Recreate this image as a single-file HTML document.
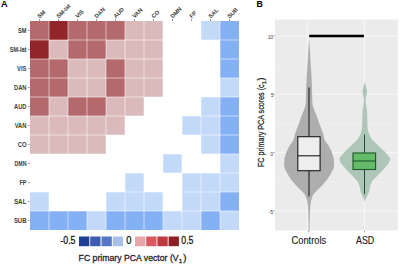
<!DOCTYPE html>
<html><head><meta charset="utf-8"><style>
html,body{margin:0;padding:0;background:#fff;width:400px;height:264px;overflow:hidden}
svg{display:block;font-family:"Liberation Sans",sans-serif}
</style></head><body>
<svg width="400" height="264" viewBox="0 0 400 264">
<rect width="400" height="264" fill="#fff"/>
<text x="0.9" y="7.0" font-size="9.2" font-weight="bold" fill="#000">A</text>
<g><rect x="30" y="21" width="19" height="19" fill="#b4696d"/><rect x="49" y="21" width="19" height="19" fill="#912529"/><rect x="68" y="21" width="19" height="19" fill="#b4696d"/><rect x="87" y="21" width="19" height="19" fill="#b4696d"/><rect x="106" y="21" width="19" height="19" fill="#b4696d"/><rect x="125" y="21" width="19" height="19" fill="#dbbabc"/><rect x="144" y="21" width="19" height="19" fill="#dbbabc"/><rect x="201" y="21" width="19" height="19" fill="#c3d9fa"/><rect x="220" y="21" width="19" height="19" fill="#84b0f5"/><rect x="30" y="40" width="19" height="19" fill="#912529"/><rect x="49" y="40" width="19" height="19" fill="#dbbabc"/><rect x="68" y="40" width="19" height="19" fill="#b4696d"/><rect x="87" y="40" width="19" height="19" fill="#b4696d"/><rect x="106" y="40" width="19" height="19" fill="#dbbabc"/><rect x="125" y="40" width="19" height="19" fill="#dbbabc"/><rect x="144" y="40" width="19" height="19" fill="#dbbabc"/><rect x="220" y="40" width="19" height="19" fill="#84b0f5"/><rect x="30" y="59" width="19" height="19" fill="#b4696d"/><rect x="49" y="59" width="19" height="19" fill="#b4696d"/><rect x="68" y="59" width="19" height="19" fill="#dbbabc"/><rect x="87" y="59" width="19" height="19" fill="#dbbabc"/><rect x="106" y="59" width="19" height="19" fill="#b4696d"/><rect x="125" y="59" width="19" height="19" fill="#dbbabc"/><rect x="144" y="59" width="19" height="19" fill="#dbbabc"/><rect x="220" y="59" width="19" height="19" fill="#84b0f5"/><rect x="30" y="78" width="19" height="19" fill="#b4696d"/><rect x="49" y="78" width="19" height="19" fill="#b4696d"/><rect x="68" y="78" width="19" height="19" fill="#dbbabc"/><rect x="87" y="78" width="19" height="19" fill="#dbbabc"/><rect x="106" y="78" width="19" height="19" fill="#b4696d"/><rect x="125" y="78" width="19" height="19" fill="#dbbabc"/><rect x="144" y="78" width="19" height="19" fill="#dbbabc"/><rect x="220" y="78" width="19" height="19" fill="#c3d9fa"/><rect x="30" y="97" width="19" height="19" fill="#b4696d"/><rect x="49" y="97" width="19" height="19" fill="#dbbabc"/><rect x="68" y="97" width="19" height="19" fill="#b4696d"/><rect x="87" y="97" width="19" height="19" fill="#b4696d"/><rect x="106" y="97" width="19" height="19" fill="#dbbabc"/><rect x="125" y="97" width="19" height="19" fill="#dbbabc"/><rect x="201" y="97" width="19" height="19" fill="#c3d9fa"/><rect x="220" y="97" width="19" height="19" fill="#84b0f5"/><rect x="30" y="116" width="19" height="19" fill="#dbbabc"/><rect x="49" y="116" width="19" height="19" fill="#dbbabc"/><rect x="68" y="116" width="19" height="19" fill="#dbbabc"/><rect x="87" y="116" width="19" height="19" fill="#dbbabc"/><rect x="106" y="116" width="19" height="19" fill="#dbbabc"/><rect x="182" y="116" width="19" height="19" fill="#c3d9fa"/><rect x="201" y="116" width="19" height="19" fill="#c3d9fa"/><rect x="220" y="116" width="19" height="19" fill="#84b0f5"/><rect x="30" y="135" width="19" height="19" fill="#dbbabc"/><rect x="49" y="135" width="19" height="19" fill="#dbbabc"/><rect x="68" y="135" width="19" height="19" fill="#dbbabc"/><rect x="87" y="135" width="19" height="19" fill="#dbbabc"/><rect x="201" y="135" width="19" height="19" fill="#c3d9fa"/><rect x="220" y="135" width="19" height="19" fill="#84b0f5"/><rect x="163" y="154" width="19" height="19" fill="#c3d9fa"/><rect x="220" y="154" width="19" height="19" fill="#c3d9fa"/><rect x="125" y="173" width="19" height="19" fill="#c3d9fa"/><rect x="182" y="173" width="19" height="19" fill="#c3d9fa"/><rect x="201" y="173" width="19" height="19" fill="#c3d9fa"/><rect x="220" y="173" width="19" height="19" fill="#c3d9fa"/><rect x="30" y="192" width="19" height="19" fill="#c3d9fa"/><rect x="106" y="192" width="19" height="19" fill="#c3d9fa"/><rect x="125" y="192" width="19" height="19" fill="#c3d9fa"/><rect x="144" y="192" width="19" height="19" fill="#c3d9fa"/><rect x="182" y="192" width="19" height="19" fill="#c3d9fa"/><rect x="201" y="192" width="19" height="19" fill="#c3d9fa"/><rect x="220" y="192" width="19" height="19" fill="#84b0f5"/><rect x="30" y="211" width="19" height="19" fill="#84b0f5"/><rect x="49" y="211" width="19" height="19" fill="#84b0f5"/><rect x="68" y="211" width="19" height="19" fill="#84b0f5"/><rect x="87" y="211" width="19" height="19" fill="#c3d9fa"/><rect x="106" y="211" width="19" height="19" fill="#84b0f5"/><rect x="125" y="211" width="19" height="19" fill="#84b0f5"/><rect x="144" y="211" width="19" height="19" fill="#84b0f5"/><rect x="163" y="211" width="19" height="19" fill="#c3d9fa"/><rect x="182" y="211" width="19" height="19" fill="#c3d9fa"/><rect x="201" y="211" width="19" height="19" fill="#84b0f5"/><rect x="220" y="211" width="19" height="19" fill="#c3d9fa"/></g>
<g stroke="#fff" stroke-opacity="0.55" stroke-width="1"><line x1="49" y1="21" x2="49" y2="230"/><line x1="30" y1="40" x2="239" y2="40"/><line x1="68" y1="21" x2="68" y2="230"/><line x1="30" y1="59" x2="239" y2="59"/><line x1="87" y1="21" x2="87" y2="230"/><line x1="30" y1="78" x2="239" y2="78"/><line x1="106" y1="21" x2="106" y2="230"/><line x1="30" y1="97" x2="239" y2="97"/><line x1="125" y1="21" x2="125" y2="230"/><line x1="30" y1="116" x2="239" y2="116"/><line x1="144" y1="21" x2="144" y2="230"/><line x1="30" y1="135" x2="239" y2="135"/><line x1="163" y1="21" x2="163" y2="230"/><line x1="30" y1="154" x2="239" y2="154"/><line x1="182" y1="21" x2="182" y2="230"/><line x1="30" y1="173" x2="239" y2="173"/><line x1="201" y1="21" x2="201" y2="230"/><line x1="30" y1="192" x2="239" y2="192"/><line x1="220" y1="21" x2="220" y2="230"/><line x1="30" y1="211" x2="239" y2="211"/></g>
<g font-size="6.3" font-weight="bold" fill="#3c3c3c"><text x="26.5" y="32.9" text-anchor="end" textLength="8.4" lengthAdjust="spacingAndGlyphs">SM</text><text x="26.5" y="51.9" text-anchor="end" textLength="16.8" lengthAdjust="spacingAndGlyphs">SM-lat</text><text x="26.5" y="70.9" text-anchor="end" textLength="9.4" lengthAdjust="spacingAndGlyphs">VIS</text><text x="26.5" y="89.9" text-anchor="end" textLength="12.4" lengthAdjust="spacingAndGlyphs">DAN</text><text x="26.5" y="108.9" text-anchor="end" textLength="12.4" lengthAdjust="spacingAndGlyphs">AUD</text><text x="26.5" y="127.9" text-anchor="end" textLength="11.8" lengthAdjust="spacingAndGlyphs">VAN</text><text x="26.5" y="146.9" text-anchor="end" textLength="8.8" lengthAdjust="spacingAndGlyphs">CO</text><text x="26.5" y="165.9" text-anchor="end" textLength="12.0" lengthAdjust="spacingAndGlyphs">DMN</text><text x="26.5" y="184.9" text-anchor="end" textLength="7.1" lengthAdjust="spacingAndGlyphs">FP</text><text x="26.5" y="203.9" text-anchor="end" textLength="12.6" lengthAdjust="spacingAndGlyphs">SAL</text><text x="26.5" y="222.9" text-anchor="end" textLength="12.6" lengthAdjust="spacingAndGlyphs">SUB</text></g>
<g stroke="#555" stroke-width="0.6"><line x1="27.9" y1="30.5" x2="29.6" y2="30.5"/><line x1="27.9" y1="49.5" x2="29.6" y2="49.5"/><line x1="27.9" y1="68.5" x2="29.6" y2="68.5"/><line x1="27.9" y1="87.5" x2="29.6" y2="87.5"/><line x1="27.9" y1="106.5" x2="29.6" y2="106.5"/><line x1="27.9" y1="125.5" x2="29.6" y2="125.5"/><line x1="27.9" y1="144.5" x2="29.6" y2="144.5"/><line x1="27.9" y1="163.5" x2="29.6" y2="163.5"/><line x1="27.9" y1="182.5" x2="29.6" y2="182.5"/><line x1="27.9" y1="201.5" x2="29.6" y2="201.5"/><line x1="27.9" y1="220.5" x2="29.6" y2="220.5"/></g>
<g font-size="5.75" font-weight="bold" fill="#3c3c3c"><text transform="translate(39.7,18.6) rotate(-45)">SM</text><text transform="translate(58.7,18.6) rotate(-45)">SM-lat</text><text transform="translate(77.7,18.6) rotate(-45)">VIS</text><text transform="translate(96.7,18.6) rotate(-45)">DAN</text><text transform="translate(115.7,18.6) rotate(-45)">AUD</text><text transform="translate(134.7,18.6) rotate(-45)">VAN</text><text transform="translate(153.7,18.6) rotate(-45)">CO</text><text transform="translate(172.7,18.6) rotate(-45)">DMN</text><text transform="translate(191.7,18.6) rotate(-45)">FP</text><text transform="translate(210.7,18.6) rotate(-45)">SAL</text><text transform="translate(229.7,18.6) rotate(-45)">SUB</text></g>
<g stroke="#555" stroke-width="0.6"><line x1="39.5" y1="19" x2="39.5" y2="21"/><line x1="58.5" y1="19" x2="58.5" y2="21"/><line x1="77.5" y1="19" x2="77.5" y2="21"/><line x1="96.5" y1="19" x2="96.5" y2="21"/><line x1="115.5" y1="19" x2="115.5" y2="21"/><line x1="134.5" y1="19" x2="134.5" y2="21"/><line x1="153.5" y1="19" x2="153.5" y2="21"/><line x1="172.5" y1="19" x2="172.5" y2="21"/><line x1="191.5" y1="19" x2="191.5" y2="21"/><line x1="210.5" y1="19" x2="210.5" y2="21"/><line x1="229.5" y1="19" x2="229.5" y2="21"/></g>
<!-- colorbar -->
<g font-size="10.2" fill="#222" stroke="#222" stroke-width="0.3">
<text x="60.3" y="244.3" textLength="15.2" lengthAdjust="spacingAndGlyphs">-0.5</text>
<text x="126.2" y="244.3" textLength="5.2" lengthAdjust="spacingAndGlyphs">0</text>
<text x="181.3" y="244.3" textLength="12.2" lengthAdjust="spacingAndGlyphs">0.5</text>
</g>
<rect x="79" y="236.5" width="10.3" height="9.7" fill="#1f3f96"/>
<rect x="90.2" y="236.5" width="10.3" height="9.7" fill="#3b5db2"/>
<rect x="101.5" y="236.5" width="10.3" height="9.7" fill="#5577c6"/>
<rect x="112.8" y="236.5" width="10.3" height="9.7" fill="#a9bee9"/>
<rect x="135" y="236.5" width="10.3" height="9.7" fill="#e9a6a9"/>
<rect x="146.2" y="236.5" width="10.3" height="9.7" fill="#d9595f"/>
<rect x="157.4" y="236.5" width="10.3" height="9.7" fill="#bf3b41"/>
<rect x="168.6" y="236.5" width="10.3" height="9.7" fill="#8e1f25"/>
<text x="78.6" y="260.8" font-size="9.6" fill="#222" stroke="#222" stroke-width="0.3"><tspan textLength="100" lengthAdjust="spacingAndGlyphs">FC primary PCA vector (V</tspan><tspan font-size="5.5" dy="2.4" dx="0.4">1</tspan><tspan dy="-2.4" dx="1.2">)</tspan></text>

<!-- panel B -->
<text x="256.6" y="6.9" font-size="8.8" font-weight="bold" fill="#000">B</text>
<rect x="275" y="19.6" width="122.8" height="210.9" fill="#ebebeb"/>
<g stroke="#fff">
<g stroke-width="0.8" stroke-opacity="0.35">
<line x1="275" y1="65.2" x2="397.8" y2="65.2"/>
<line x1="275" y1="123.5" x2="397.8" y2="123.5"/>
<line x1="275" y1="181.9" x2="397.8" y2="181.9"/>
</g>
<g stroke-width="1" stroke-opacity="0.6">
<line x1="275" y1="36" x2="397.8" y2="36"/>
<line x1="275" y1="94.3" x2="397.8" y2="94.3"/>
<line x1="275" y1="152.7" x2="397.8" y2="152.7"/>
<line x1="275" y1="211" x2="397.8" y2="211"/>
<line x1="307.2" y1="19.6" x2="307.2" y2="230.5"/>
<line x1="364.5" y1="19.6" x2="364.5" y2="230.5"/>
</g></g>
<g stroke="#444" stroke-width="0.5">
<line x1="273.4" y1="36" x2="275" y2="36"/>
<line x1="273.4" y1="94.3" x2="275" y2="94.3"/>
<line x1="273.4" y1="152.7" x2="275" y2="152.7"/>
<line x1="273.4" y1="211" x2="275" y2="211"/>
<line x1="308.6" y1="230.5" x2="308.6" y2="232.2"/>
<line x1="364.5" y1="230.5" x2="364.5" y2="232.2"/>
</g>
<g font-size="4.6" fill="#333" text-anchor="end">
<text x="273" y="38.7">10</text>
<text x="273.5" y="97.1">5</text>
<text x="273" y="155.5">0</text>
<text x="273.2" y="214.2">-5</text>
</g>
<line x1="309.2" y1="36.0" x2="364" y2="36.0" stroke="#000" stroke-width="2.6"/>
<path d="M309.1,39.0 L308.3,50.0 L307.7,61.5 L307.1,70.0 L306.5,80.0 L306.2,90.0 L305.9,99.5 L305.7,105.0 L303.7,110.8 L301.3,116.6 L299.3,122.4 L297.1,128.2 L295.0,134.0 L293.6,140.0 L289.3,146.2 L286.2,152.4 L284.5,158.6 L284.1,164.8 L284.5,168.0 L287.4,173.8 L291.0,179.6 L296.1,185.4 L301.9,191.2 L305.3,195.0 L307.2,201.0 L308.0,207.0 L308.3,213.0 L308.6,225.0 L308.7,231.0 L309.5,231.0 L309.6,225.0 L309.9,213.0 L310.2,207.0 L311.0,201.0 L312.9,195.0 L316.3,191.2 L322.1,185.4 L327.2,179.6 L330.8,173.8 L333.7,168.0 L334.1,164.8 L333.7,158.6 L332.0,152.4 L328.9,146.2 L324.6,140.0 L323.2,134.0 L321.1,128.2 L318.9,122.4 L316.9,116.6 L314.5,110.8 L312.5,105.0 L312.3,99.5 L312.0,90.0 L311.7,80.0 L311.1,70.0 L310.5,61.5 L309.9,50.0 L309.1,39.0 Z" fill="#adadad"/>
<line x1="309" y1="87.4" x2="309" y2="196.3" stroke="#111" stroke-width="1"/>
<rect x="297.8" y="136.7" width="22.3" height="34" fill="#eeeeee" stroke="#1a1a1a" stroke-width="1.1"/>
<line x1="297.8" y1="155.8" x2="320.1" y2="155.8" stroke="#1a1a1a" stroke-width="1.1"/>
<path d="M364.8,82.5 L363.7,86.0 L362.5,90.5 L362.8,94.0 L363.8,98.0 L364.0,101.0 L363.5,105.0 L362.5,111.5 L362.2,123.3 L362.1,128.0 L360.7,133.8 L357.6,139.6 L351.4,145.4 L345.2,151.2 L340.2,157.0 L339.3,159.5 L341.3,163.8 L346.3,169.6 L352.1,175.4 L357.6,181.2 L359.8,187.0 L360.3,190.7 L362.0,195.2 L363.7,198.6 L364.5,201.0 L364.8,202.0 L364.8,202.0 L365.1,201.0 L365.9,198.6 L367.6,195.2 L369.3,190.7 L369.8,187.0 L372.0,181.2 L377.5,175.4 L383.3,169.6 L388.3,163.8 L390.3,159.5 L389.4,157.0 L384.4,151.2 L378.2,145.4 L372.0,139.6 L368.9,133.8 L367.5,128.0 L367.4,123.3 L367.1,111.5 L366.1,105.0 L365.6,101.0 L365.8,98.0 L366.8,94.0 L367.1,90.5 L365.9,86.0 L364.8,82.5 Z" fill="#aec6b8"/>
<line x1="364.5" y1="134.5" x2="364.5" y2="194" stroke="#1d4f2c" stroke-width="1"/>
<rect x="353" y="153" width="22.6" height="16.5" fill="#64bb68" stroke="#1a5a2a" stroke-width="1.1"/>
<line x1="353" y1="161" x2="375.6" y2="161" stroke="#1a5a2a" stroke-width="1.1"/>
<g font-size="10.3" fill="#1a1a1a" stroke="#1a1a1a" stroke-width="0.12">
<text x="291.5" y="243.8" textLength="34.6" lengthAdjust="spacingAndGlyphs">Controls</text>
<text x="356" y="243.8" textLength="18.2" lengthAdjust="spacingAndGlyphs">ASD</text>
</g>
<text transform="translate(263.9,167.0) rotate(-90)" font-size="8.9" fill="#222" stroke="#222" stroke-width="0.25"><tspan textLength="82.6" lengthAdjust="spacingAndGlyphs">FC primary PCA scores (c</tspan><tspan font-size="5" dy="2" dx="0.3">1</tspan><tspan dy="-2" dx="0.8">)</tspan></text>
</svg>
</body></html>
